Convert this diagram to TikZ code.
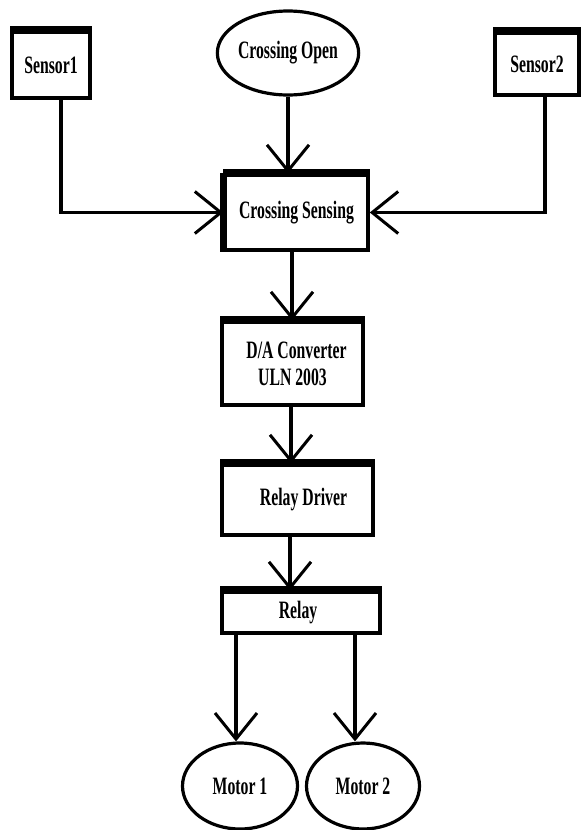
\documentclass[tikz,border=0pt]{standalone}
\usepackage{fontspec}
\setmainfont{Liberation Serif}[FakeStretch=0.63]
\usetikzlibrary{arrows.meta,shapes.geometric}

\tikzset{
  block/.style={draw, line width=3.6pt, rectangle, inner sep=0pt, align=center},
  oval/.style={draw, line width=3.2pt, ellipse, inner sep=0pt},
  flow/.style={line width=3.6pt, -{Straight Barb[length=26pt,width=42pt,line width=3pt]}},
  topbar/.style={line width=8pt}
}

\begin{document}
\begin{tikzpicture}[x=1pt, y=-1pt, font=\fontsize{25}{27}\selectfont\bfseries]

\useasboundingbox (0,0) rectangle (581,830);

% inputs
\node[block, minimum width=78pt, minimum height=66pt] (sensorA) at (51,65) {Sensor1};
\node[oval, minimum width=125pt, minimum height=84pt] (crossopen) at (288,53) {Crossing Open};
\node[block, minimum width=84pt, minimum height=62pt] (sensorB) at (537,64) {Sensor2};

% chain
\node[block, minimum width=143pt, minimum height=75pt] (sensing) at (296.5,212.5) {Crossing Sensing};
\node[block, minimum width=141pt, minimum height=83pt] (converter) at (292.5,363.5) {\hspace*{8pt}D/A Converter\\ULN 2003};
\node[block, minimum width=151pt, minimum height=70pt] (driver) at (297.5,500) {\hspace*{12pt}Relay Driver};
\node[block, minimum width=158pt, minimum height=41pt] (relay) at (301,612.5) {Relay\hspace*{6pt}};

% outputs
\node[oval, minimum width=115pt, minimum height=86pt] (motorA) at (240,786) {Motor 1};
\node[oval, minimum width=113pt, minimum height=86pt] (motorB) at (363,786) {Motor 2};

% heavy top edges
\foreach \b in {sensorA, sensorB, sensing, converter, driver, relay}
  \draw[topbar] (\b.north west) -- (\b.north east);
\draw[line width=6pt] (sensing.north west) -- (sensing.south west);

% connectors
\draw[flow] (sensorA.south -| 61,0) |- (sensing.west);
\draw[flow] (sensorB.south -| 545,0) |- (sensing.east);
\draw[flow] (crossopen.south) -- (crossopen.south |- sensing.north);
\draw[flow] (sensing.south -| 292,0) -- (converter.north -| 292,0);
\draw[flow] (converter.south -| 291,0) -- (driver.north -| 291,0);
\draw[flow] (driver.south -| 290,0) -- (relay.north -| 290,0);
\draw[flow] (relay.south -| 236,0) -- (motorA.north -| 236,0);
\draw[flow] (relay.south -| 355,0) -- (motorB.north -| 355,0);

\end{tikzpicture}
\end{document}
